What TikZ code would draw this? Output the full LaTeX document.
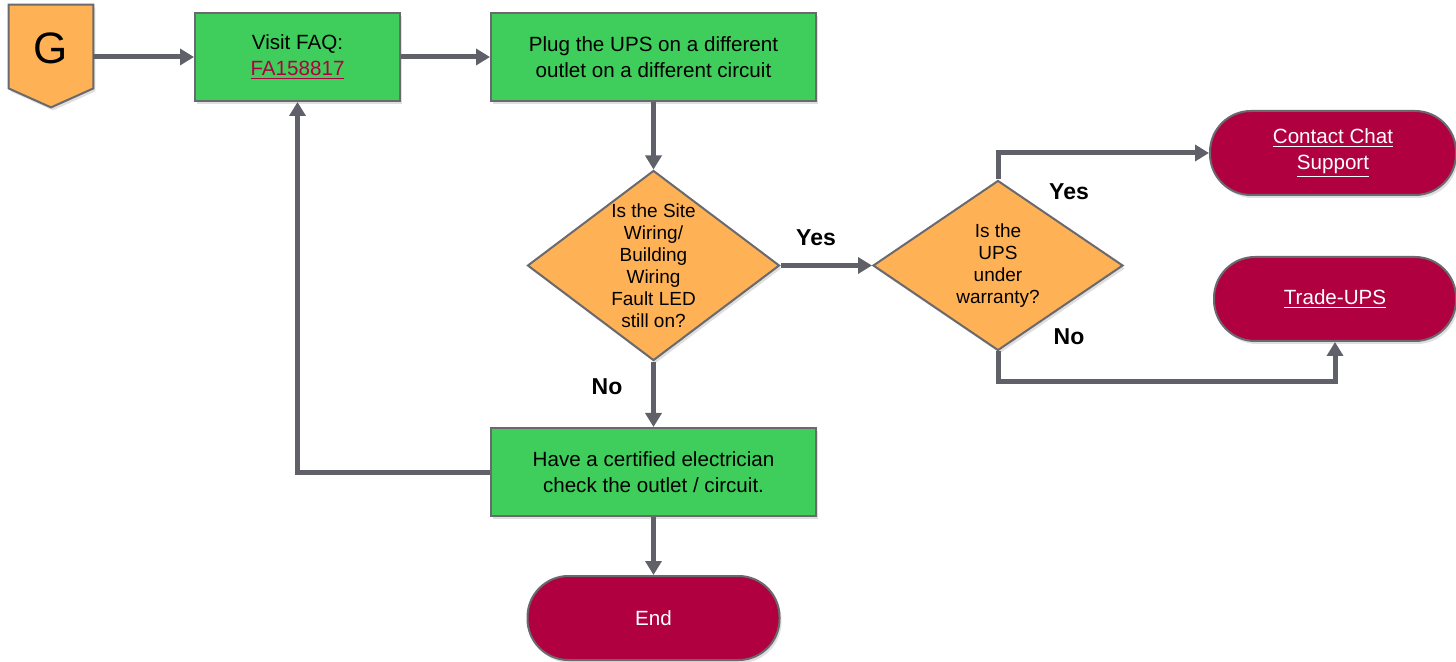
\documentclass[tikz,border=0pt]{standalone}
\usepackage{fontspec}
\setmainfont{Liberation Sans}
\usetikzlibrary{shapes.geometric,arrows.meta,shadows}

\definecolor{boxgreen}{RGB}{63,206,92}
\definecolor{boxorange}{RGB}{255,178,85}
\definecolor{boxred}{RGB}{176,0,64}
\definecolor{linegray}{RGB}{95,96,104}
\definecolor{edgegray}{RGB}{105,105,110}

\tikzset{
  boxshadow/.style={drop shadow={opacity=0.25,shadow xshift=1pt,shadow yshift=-1.5pt}},
  procbox/.style={rectangle, draw=edgegray, line width=1pt, fill=boxgreen, boxshadow,
    minimum width=162.5pt, minimum height=44pt, align=center,
    font=\fontsize{10.3}{13}\selectfont},
  askbox/.style={diamond, draw=edgegray, line width=1pt, fill=boxorange, boxshadow,
    inner sep=0pt, align=center, font=\fontsize{9.5}{11}\selectfont},
  endbox/.style={rectangle, rounded corners=20.5pt, draw=edgegray, line width=1pt,
    fill=boxred, boxshadow, text=white, minimum height=42pt, align=center,
    font=\fontsize{10.3}{13}\selectfont},
  flow/.style={draw=linegray, line width=2.5pt, -{Triangle[length=7pt,width=8pt]}},
  answer/.style={font=\fontsize{11.5}{13}\selectfont\bfseries}
}

\begin{document}
\begin{tikzpicture}[x=0.5pt,y=-0.5pt]
\useasboundingbox (0,0) rectangle (1456,662);

\node[minimum width=42pt, minimum height=41.5pt, inner sep=0pt] (g) at (51,46.5) {};
\draw[draw=edgegray, line width=1pt, fill=boxorange, boxshadow] (g.north west) -- (g.north east) -- (g.south east) -- ([yshift=-9.5pt]g.south) -- (g.south west) -- cycle;
\node[font=\fontsize{22}{24}\selectfont] at ([yshift=-1pt]g) {G};

\node[procbox, minimum width=102.5pt] (faq) at (297.5,57) {Visit FAQ:\\\textcolor{boxred}{\underline{FA158817}}};
\node[procbox] (plug) at (653.5,57) {Plug the UPS on a different\\outlet on a different circuit};
\node[askbox, minimum width=126pt, minimum height=95pt, shape aspect=1.33] (site) at (653.5,265.5) {Is the Site\\Wiring/\\Building\\Wiring\\Fault LED\\still on?};
\node[askbox, minimum width=125pt, minimum height=85pt] (warr) at (998,265.5) {Is the\\UPS\\under\\warranty?};
\node[endbox, minimum width=123pt] (chat) at (1333,153) {\underline{Contact Chat}\\\underline{Support}};
\node[endbox, minimum width=121pt] (trade) at (1335,299) {\underline{Trade-UPS}};
\node[procbox] (elec) at (653.5,472) {Have a certified electrician\\check the outlet / circuit.};
\node[endbox, minimum width=126pt] (end) at (653.5,618) {End};

\draw[flow] (g.east |- faq.west) -- (faq.west);
\draw[flow] (faq) -- (plug);
\draw[flow] (plug) -- (site);
\draw[flow] (site) -- (warr);
\draw[flow] (warr.north) |- (chat.west);
\draw[flow] (warr.south) -- ++(0,30) -| (trade.south);
\draw[flow] (site) -- (elec);
\draw[flow] (elec.west) -| (faq.south);
\draw[flow] (elec) -- (end);

\node[answer] (yes1) at (816,238) {Yes};
\node[answer] (yes2) at (1069,192) {Yes};
\node[answer] (no2) at (1069,337) {No};
\node[answer] (no1) at (607,387) {No};
\end{tikzpicture}
\end{document}
